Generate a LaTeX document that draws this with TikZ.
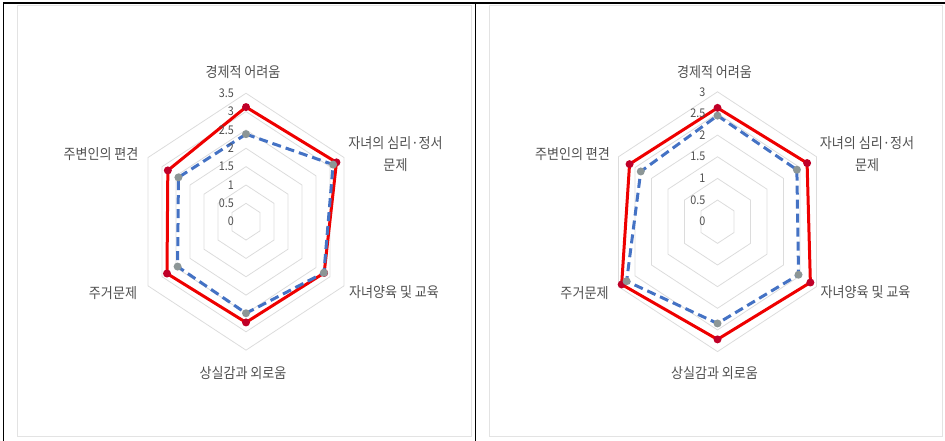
\documentclass[tikz,border=0pt]{standalone}
\usepackage{fontspec}
\setmainfont{Noto Sans CJK KR}
\newfontfamily\krfont[FakeStretch=0.9]{Noto Sans CJK KR}
\usetikzlibrary{positioning}
\definecolor{serred}{RGB}{238,0,0}
\definecolor{mkred}{RGB}{192,0,40}
\definecolor{serblue}{RGB}{68,114,196}
\definecolor{mkgray}{RGB}{140,150,150}
\definecolor{gridgray}{RGB}{220,220,220}
\definecolor{labgray}{RGB}{80,80,80}

\begin{document}
\begin{tikzpicture}[
    x=1pt, y=1pt,
    ring/.style={draw=gridgray, line width=0.8pt},
    redline/.style={draw=serred, line width=3pt, line join=round},
    blueline/.style={draw=serblue, line width=3pt, line join=round, dash pattern=on 9pt off 5pt},
    redmark/.style={circle, fill=mkred, inner sep=0pt, minimum size=8pt},
    graymark/.style={circle, fill=mkgray, inner sep=0pt, minimum size=8pt},
    axislabel/.style={font=\krfont\fontsize{14.5}{22}\selectfont, text=labgray, align=center, inner sep=0pt},
    ticklabel/.style={font=\krfont\fontsize{12}{12}\selectfont, text=labgray, anchor=east, inner sep=0pt},
    panelbox/.style={draw=gray!22, line width=1pt},
    frameline/.style={draw=black, line width=1.5pt}
  ]
  \useasboundingbox (0,0) rectangle (945,-441);
  % frame and panels
  \draw[panelbox] (17,-6) rectangle (471,-436);
  \draw[panelbox] (489,-6) rectangle (942,-436);
  \draw[frameline] (3.5,-441) -- (3.5,-3) -- (945,-3);
  \draw[frameline] (475.5,-3) -- (475.5,-441);

  % left chart
  \begin{scope}[shift={(246,-221.7)}]
    \begin{scope}[xscale=32.3, yscale=36.7]
      \foreach \r in {0.5,1,1.5,2,2.5,3,3.5}
        \draw[ring] (90:\r) -- (30:\r) -- (-30:\r) -- (-90:\r) -- (-150:\r) -- (150:\r) -- cycle;
      \foreach \v [count=\i] in {3.13,3.24,2.8,2.75,2.83,2.8}
        \coordinate (lr\i) at ({150-60*\i}:\v);
      \foreach \v [count=\i] in {2.39,3.12,2.79,2.5,2.45,2.42}
        \coordinate (lb\i) at ({150-60*\i}:\v);
      \draw[redline] (lr1) -- (lr2) -- (lr3) -- (lr4) -- (lr5) -- (lr6) -- cycle;
      \foreach \i in {1,...,6}
        \node[redmark] (lrm\i) at (lr\i) {};
      \draw[blueline] (lb1) -- (lb2) -- (lb3) -- (lb4) -- (lb5) -- (lb6) -- cycle;
      \foreach \i in {1,...,6}
        \node[graymark] (lbm\i) at (lb\i) {};
    \end{scope}
    \foreach \v [count=\k] in {0,0.5,1,1.5,2,2.5,3,3.5}
      \node[ticklabel] (lt\k) at (-12,{36.7*\v}) {\v};
    \node[axislabel] (lecon) at (-3,149.7) {경제적 어려움};
    \node[axislabel] (lmind) at (149.5,67.7) {자녀의 심리·정서\\문제};
    \node[axislabel] (lcare) at (148,-70.3) {자녀양육 및 교육};
    \node[axislabel] (llone) at (-3,-151.3) {상실감과 외로움};
    \node[axislabel] (lhome) at (-133,-71.3) {주거문제};
    \node[axislabel] (lbias) at (-145,67.7) {주변인의 편견};
  \end{scope}

  % right chart
  \begin{scope}[shift={(717.5,-221.7)}]
    \begin{scope}[xscale=38.1, yscale=43.3]
      \foreach \r in {0.5,1,1.5,2,2.5,3}
        \draw[ring] (90:\r) -- (30:\r) -- (-30:\r) -- (-90:\r) -- (-150:\r) -- (150:\r) -- cycle;
      \foreach \v [count=\i] in {2.64,2.72,2.82,2.73,2.91,2.67}
        \coordinate (rr\i) at ({150-60*\i}:\v);
      \foreach \v [count=\i] in {2.46,2.41,2.46,2.36,2.76,2.33}
        \coordinate (rb\i) at ({150-60*\i}:\v);
      \draw[redline] (rr1) -- (rr2) -- (rr3) -- (rr4) -- (rr5) -- (rr6) -- cycle;
      \foreach \i in {1,...,6}
        \node[redmark] (rrm\i) at (rr\i) {};
      \draw[blueline] (rb1) -- (rb2) -- (rb3) -- (rb4) -- (rb5) -- (rb6) -- cycle;
      \foreach \i in {1,...,6}
        \node[graymark] (rbm\i) at (rb\i) {};
    \end{scope}
    \foreach \v [count=\k] in {0,0.5,1,1.5,2,2.5,3}
      \node[ticklabel] (rt\k) at (-12,{43.3*\v}) {\v};
    \node[axislabel] (recon) at (-3,149.7) {경제적 어려움};
    \node[axislabel] (rmind) at (149.5,67.7) {자녀의 심리·정서\\문제};
    \node[axislabel] (rcare) at (148,-70.3) {자녀양육 및 교육};
    \node[axislabel] (rlone) at (-3,-151.3) {상실감과 외로움};
    \node[axislabel] (rhome) at (-133,-71.3) {주거문제};
    \node[axislabel] (rbias) at (-145,67.7) {주변인의 편견};
  \end{scope}
\end{tikzpicture}
\end{document}
